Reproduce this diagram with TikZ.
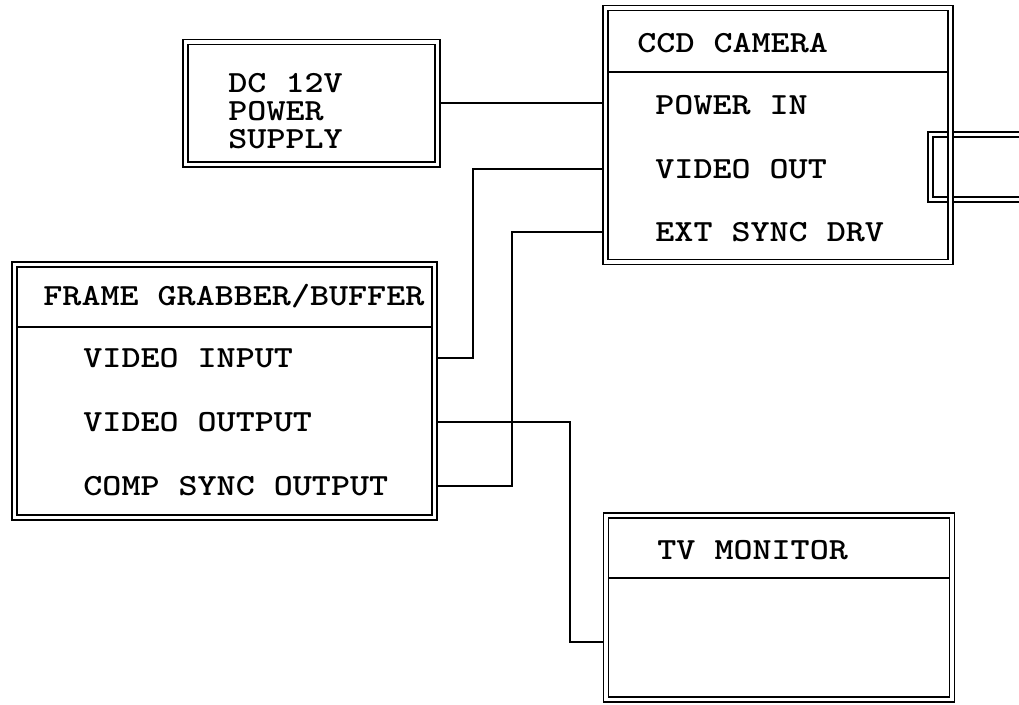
\documentclass[tikz,border=0pt]{standalone}
\usepackage{fontspec}
\usetikzlibrary{positioning,calc}

\begin{document}
\begin{tikzpicture}[x=0.02cm, y=-0.02cm,
    unit/.style={rectangle, draw, line width=0.9pt, double, double distance=1.9pt,
        outer sep=0.05cm, inner sep=0pt},
    lbl/.style={font=\ttfamily\bfseries\fontsize{17.5}{16}\selectfont,
        anchor=west, inner sep=0pt, align=left, xscale=1.18, transform shape},
    divider/.style={line width=0.9pt, shorten <=0.09cm, shorten >=0.09cm},
    wire/.style={line width=0.9pt}
]
    \useasboundingbox (0,0) rectangle (1019,705);

    % lens first, the camera border runs over it
    \node[unit, minimum width=2.59cm, minimum height=1.3cm] (lens) at (995.25,167) {};

    \node[unit, minimum width=5.04cm, minimum height=2.45cm] (pwr) at (311.5,103.25) {};
    \node[unit, minimum width=6.9cm,  minimum height=5.08cm] (cam) at (778,135) {};
    \node[unit, minimum width=8.4cm,  minimum height=5.06cm] (fg)  at (224.5,391) {};
    \node[unit, minimum width=6.92cm, minimum height=3.68cm] (tv)  at (779,607.5) {};

    \draw[divider] (cam.west |- 0,72)  -- (cam.east |- 0,72);
    \draw[divider] (fg.west |- 0,327)  -- (fg.east |- 0,327);
    \draw[divider] (tv.west |- 0,578)  -- (tv.east |- 0,578);

    \node[lbl] (pwrtxt)   at (228,111) {DC 12V\\POWER\\SUPPLY};
    \node[lbl] (camtitle) at (637,43)  {CCD CAMERA};
    \node[lbl] (pwrin)    at (655,105) {POWER IN};
    \node[lbl] (vidout)   at (655,169) {VIDEO OUT};
    \node[lbl] (extsync)  at (655,232) {EXT SYNC DRV};
    \node[lbl] (fgtitle)  at (43,296)  {FRAME GRABBER/BUFFER};
    \node[lbl] (vidin)    at (83,358)  {VIDEO INPUT};
    \node[lbl] (vidoutp)  at (83,422)  {VIDEO OUTPUT};
    \node[lbl] (compsync) at (83,486)  {COMP SYNC OUTPUT};
    \node[lbl] (tvtitle)  at (657,550) {TV MONITOR};

    \coordinate (tvin) at (603,642);

    \draw[wire] (pwr.east) -- (cam.west |- pwr.east);
    \draw[wire] (cam.west |- vidout) -- ++(-130,0) |- (fg.east |- vidin);
    \draw[wire] (cam.west |- extsync) -- ++(-91,0) |- (fg.east |- compsync);
    \draw[wire] (fg.east |- vidoutp) -- ++(133,0) |- (tv.west |- tvin);
\end{tikzpicture}
\end{document}
